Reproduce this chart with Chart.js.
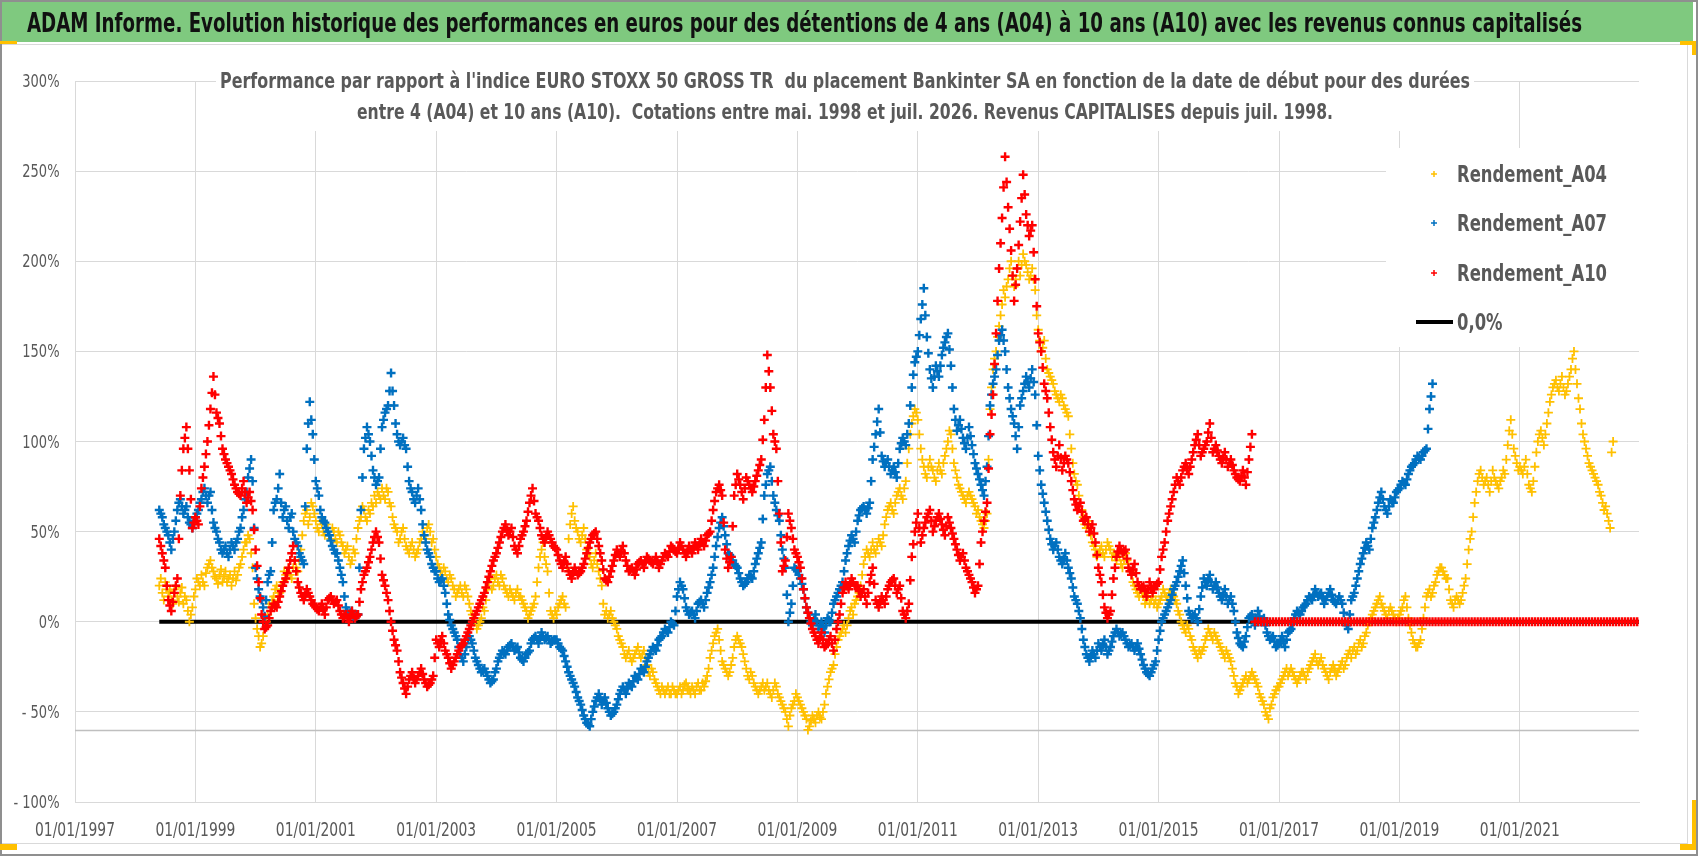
<!DOCTYPE html>
<html>
<head>
<meta charset="utf-8">
<script src="https://cdn.jsdelivr.net/npm/chart.js@4.4.1/dist/chart.umd.min.js"></script>
<style>
html, body { margin: 0; padding: 0; background: #fff; }
#wrap { position: relative; width: 1698px; height: 856px; }
</style>
</head>
<body>
<div id="wrap"><canvas id="chart" width="1698" height="856"></canvas></div>
<script>
const FONT = "'Liberation Sans Narrow', 'DejaVu Sans Condensed', 'Open Sans', sans-serif";

const mainTitle = "ADAM Informe. Evolution historique des performances en euros pour des détentions de 4 ans (A04) à 10 ans (A10) avec les revenus connus capitalisés";
const subTitle = [
    "Performance par rapport à l'indice EURO STOXX 50 GROSS TR  du placement Bankinter SA en fonction de la date de début pour des durées",
    "entre 4 (A04) et 10 ans (A10).  Cotations entre mai. 1998 et juil. 2026. Revenus CAPITALISES depuis juil. 1998."
];

// x axis: decimal years, one label every two years
const xTickYears = [1997, 1999, 2001, 2003, 2005, 2007, 2009, 2011, 2013, 2015, 2017, 2019, 2021];
const yTicks = [-100, -50, 0, 50, 100, 150, 200, 250, 300];
const axisCross = -60;

// series every 0.025 year from their start date (values in %)
const stepYears = 0.025;
const a04Start = 1998.40;
const a07Start = 1998.40;
const a10Start = 1998.40;

const a04Values = [
    20, 24, 16, 12, 22, 18, 14, 17, 12, 10, 18, 20, 14, 11, 16, 19, 10, 14, 12, 6, 0, 4, 8, 14,
    18, 24, 22, 20, 26, 22, 20, 27, 30, 32, 34, 30, 28, 25, 24, 21, 26, 29, 22, 25, 28, 22, 24, 26, 20, 24, 28, 23, 26, 30, 32, 36, 40, 44, 44, 48, 46, 38, 30, 10,
    2, -4, -8, -14, -12, -8, -4, 0, 4, 10, 8, 12, 14, 18, 20, 14, 16, 20, 22, 28, 26, 24, 30, 26, 24, 30, 34, 30, 28, 34, 40, 48, 56, 60, 62, 54, 58, 66, 64, 60,
    56, 52, 50, 56, 54, 50, 48, 54, 52, 48, 46, 52, 50, 46, 44, 50, 48, 44, 42, 38, 40, 42, 36, 32, 34, 40, 38, 46, 52, 56, 58, 64, 62, 58, 56, 62, 60, 66, 64, 70,
    66, 72, 70, 68, 74, 70, 68, 74, 72, 66, 64, 58, 54, 52, 50, 44, 46, 50, 52, 46, 42, 40, 38, 42, 44, 40, 36, 38, 40, 44, 46, 50, 48, 46, 52, 54, 50, 44, 46, 40,
    36, 32, 30, 28, 26, 30, 28, 24, 22, 26, 24, 20, 18, 14, 16, 18, 20, 16, 14, 20, 18, 14, 10, 6, 4, 2, 0, -4, -2, 0, 2, 8, 6, 12, 18, 22, 24, 18, 20, 24,
    26, 22, 20, 26, 24, 20, 18, 16, 14, 18, 16, 14, 12, 16, 18, 14, 14, 12, 10, 8, 6, 2, 4, 6, 8, 10, 14, 22, 30, 36, 40, 44, 36, 32, 28, 16, 6, 4, 2, 6,
    4, 8, 10, 12, 14, 10, 8, 30, 46, 54, 60, 64, 56, 52, 50, 46, 44, 48, 52, 46, 40, 38, 36, 32, 30, 34, 38, 32, 28, 24, 20, 10, 4, 6, 2, 4, 6, 2, 0, -2,
    -4, -8, -10, -12, -14, -18, -20, -18, -16, -20, -22, -20, -18, -16, -14, -18, -20, -18, -16, -20, -24, -28, -30, -26, -28, -32, -34, -36, -38, -40, -36, -38, -40, -38, -36, -40, -40, -36, -38, -40,
    -40, -38, -36, -40, -38, -35, -34, -37, -38, -40, -36, -38, -40, -36, -34, -38, -38, -34, -36, -33, -30, -26, -20, -16, -12, -8, -6, -4, -10, -16, -22, -24, -26, -28, -30, -28, -24, -20, -14, -10,
    -8, -10, -12, -14, -18, -22, -26, -30, -32, -28, -30, -34, -36, -38, -40, -38, -36, -34, -38, -36, -34, -38, -40, -42, -38, -34, -36, -40, -42, -44, -46, -48, -50, -54, -58, -52, -48, -46, -44, -40,
    -42, -44, -46, -48, -50, -52, -54, -60, -58, -55, -52, -54, -56, -52, -50, -53, -54, -50, -46, -40, -36, -32, -28, -26, -24, -18, -14, -10, -8, -6, -4, -2, -6, -2, 2, 6, 8, 4, 10, 12,
    14, 16, 20, 26, 32, 36, 40, 38, 36, 40, 44, 40, 38, 42, 46, 44, 42, 48, 54, 58, 62, 64, 66, 62, 60, 66, 70, 72, 74, 70, 68, 74, 78, 88, 96, 104, 110, 114, 118, 116,
    112, 104, 96, 90, 86, 82, 80, 86, 90, 86, 84, 80, 78, 84, 88, 84, 82, 88, 92, 96, 100, 106, 104, 96, 88, 84, 80, 76, 74, 72, 70, 68, 66, 70, 72, 70, 68, 66, 64, 60,
    62, 58, 56, 54, 52, 56, 60, 90, 118, 130, 140, 146, 150, 158, 164, 170, 176, 184, 180, 186, 190, 196, 200, 192, 186, 190, 196, 200, 192, 198, 204, 200, 198, 194, 190, 192, 196, 190, 184, 170,
    162, 156, 150, 152, 156, 146, 140, 138, 136, 134, 132, 128, 126, 124, 122, 126, 124, 120, 118, 116, 114, 104, 96, 88, 82, 78, 76, 70, 66, 62, 58, 54, 52, 56, 54, 48, 44, 42, 40, 36,
    38, 40, 42, 38, 36, 40, 44, 42, 40, 36, 38, 36, 34, 38, 36, 32, 30, 34, 38, 34, 32, 28, 26, 22, 20, 18, 16, 14, 18, 16, 14, 10, 12, 14, 10, 12, 14, 10, 12, 8,
    10, 12, 14, 18, 16, 14, 12, 16, 18, 16, 14, 12, 10, 6, 4, 0, -2, -4, -6, -2, -4, -8, -10, -14, -16, -18, -20, -16, -18, -16, -14, -10, -8, -4, -6, -8, -10, -6, -8, -10,
    -12, -14, -16, -18, -20, -16, -18, -20, -22, -26, -30, -34, -36, -40, -38, -36, -34, -32, -30, -34, -32, -30, -28, -30, -32, -34, -36, -40, -42, -44, -46, -50, -52, -54, -48, -46, -42, -40, -38, -36,
    -36, -34, -32, -30, -28, -26, -30, -28, -26, -28, -30, -32, -34, -32, -30, -28, -28, -30, -32, -28, -26, -24, -22, -20, -18, -22, -24, -22, -20, -24, -26, -28, -30, -32, -28, -26, -24, -27, -30, -28,
    -26, -24, -22, -26, -24, -20, -18, -16, -20, -16, -14, -18, -16, -12, -10, -14, -12, -8, -6, -2, 0, 2, 4, 6, 8, 10, 12, 14, 10, 8, 6, 4, 2, 6, 8, 6, 4, 2, 0, 2,
    4, 6, 8, 12, 14, 8, 2, -2, -6, -10, -12, -14, -14, -12, -10, -4, 2, 8, 14, 16, 18, 14, 16, 20, 22, 26, 28, 30, 30, 28, 26, 24, 24, 18, 12, 10, 8, 12, 14, 12,
    10, 12, 16, 20, 24, 32, 40, 46, 50, 58, 66, 72, 78, 82, 84, 80, 76, 78, 80, 76, 72, 78, 84, 80, 78, 76, 74, 78, 80, 84, 82, 90, 98, 106, 112, 104, 96, 92, 88, 84,
    86, 84, 82, 86, 90, 82, 76, 74, 72, 78, 86, 94, 100, 104, 106, 102, 98, 104, 110, 116, 122, 126, 130, 132, 134, 130, 128, 132, 136, 130, 126, 128, 132, 136, 140, 146, 150, 140, 132, 124,
    118, 110, 104, 100, 96, 92, 88, 86, 84, 82, 80, 78, 76, 72, 70, 66, 62, 64, 60, 56, 52, 94, 100
];

const a07Values = [
    62, 60, 58, 54, 52, 50, 48, 44, 40, 46, 50, 56, 62, 66, 68, 64, 60, 62, 64, 58, 55, 54, 52, 56,
    58, 60, 62, 66, 68, 72, 74, 70, 66, 70, 72, 62, 55, 52, 50, 46, 44, 40, 38, 40, 42, 38, 36, 40, 44, 42, 40, 44, 46, 50, 52, 58, 62, 68, 72, 80, 85, 90, 78, 52,
    30, 24, 18, 14, 12, 8, 3, 12, 22, 26, 28, 44, 62, 66, 68, 74, 82, 66, 58, 62, 64, 56, 52, 58, 60, 50, 46, 44, 42, 38, 36, 34, 32, 64, 96, 110, 122, 112, 104, 90,
    78, 74, 70, 62, 58, 56, 55, 52, 50, 48, 45, 42, 40, 38, 38, 34, 30, 26, 22, 14, 8, 6, 4, 5, 6, 3, 2, 4, 4, 30, 62, 80, 96, 102, 108, 104, 100, 92, 84, 80,
    76, 78, 80, 96, 108, 112, 116, 118, 120, 128, 138, 128, 120, 110, 104, 100, 98, 100, 102, 98, 96, 86, 78, 74, 72, 68, 66, 70, 74, 68, 62, 54, 48, 44, 40, 38, 36, 32, 30, 28,
    28, 24, 22, 23, 24, 20, 16, 10, 4, 1, -2, -4, -6, -8, -10, -14, -18, -20, -22, -18, -14, -10, -8, -10, -12, -16, -20, -22, -24, -26, -28, -27, -26, -28, -30, -32, -34, -33, -32, -28,
    -26, -22, -20, -18, -16, -17, -18, -16, -14, -13, -12, -14, -16, -15, -14, -17, -20, -21, -22, -20, -18, -17, -16, -12, -10, -9, -8, -10, -12, -9, -6, -8, -10, -9, -8, -10, -12, -11, -10, -10,
    -10, -12, -14, -15, -16, -19, -22, -25, -28, -30, -32, -34, -36, -39, -42, -44, -46, -49, -52, -54, -56, -57, -58, -54, -50, -47, -44, -42, -40, -43, -46, -44, -42, -45, -48, -50, -52, -51, -50, -48,
    -46, -43, -40, -38, -36, -38, -40, -37, -34, -35, -36, -33, -30, -31, -32, -29, -26, -27, -28, -25, -22, -20, -18, -16, -14, -15, -16, -13, -10, -9, -8, -6, -4, -5, -6, -3, 0, -1, -2, 6,
    14, 18, 22, 20, 18, 13, 8, 6, 4, 5, 6, 4, 2, 6, 10, 11, 12, 10, 8, 12, 16, 19, 22, 26, 30, 36, 42, 47, 52, 55, 58, 53, 48, 43, 38, 37, 36, 34, 32, 31,
    30, 27, 24, 22, 20, 21, 22, 24, 26, 25, 24, 28, 32, 35, 38, 41, 44, 57, 70, 76, 82, 84, 86, 78, 70, 66, 62, 59, 56, 48, 40, 35, 30, 15, 0, 5, 10, 20, 30, 29,
    28, 26, 24, 21, 18, 13, 8, 5, 2, 0, -2, 1, 4, 0, -4, -2, 0, -3, -6, -2, 2, 1, 0, 5, 10, 12, 14, 16, 18, 20, 22, 28, 34, 38, 42, 45, 48, 46, 44, 50,
    56, 59, 62, 63, 64, 62, 60, 63, 66, 78, 90, 97, 104, 111, 118, 105, 92, 89, 86, 88, 90, 86, 82, 84, 86, 83, 80, 88, 96, 99, 102, 100, 98, 104, 110, 120, 130, 137, 144, 147,
    150, 159, 168, 176, 185, 170, 158, 149, 140, 135, 130, 136, 142, 139, 136, 142, 148, 152, 155, 158, 160, 151, 142, 130, 118, 112, 106, 109, 112, 107, 102, 99, 96, 102, 108, 103, 98, 93, 88, 85,
    82, 79, 76, 73, 70, 78, 86, 103, 120, 126, 132, 136, 140, 148, 156, 159, 162, 156, 150, 140, 130, 124, 118, 114, 110, 103, 96, 108, 120, 124, 128, 132, 136, 133, 130, 135, 140, 133, 126, 109,
    92, 84, 76, 71, 66, 61, 56, 51, 46, 43, 40, 42, 44, 40, 36, 34, 32, 35, 38, 34, 30, 27, 24, 19, 14, 12, 10, 6, 2, -4, -10, -14, -18, -20, -22, -19, -16, -18, -20, -16,
    -12, -14, -16, -13, -10, -14, -18, -16, -14, -11, -8, -6, -4, -6, -8, -7, -6, -8, -10, -12, -14, -13, -12, -14, -16, -14, -12, -15, -18, -21, -24, -26, -28, -29, -30, -28, -26, -24, -22, -16,
    -10, -5, 0, 2, 4, 6, 8, 10, 12, 15, 18, 20, 22, 25, 28, 31, 34, 27, 20, 13, 6, 4, 2, 3, 4, 2, 0, 7, 14, 19, 24, 22, 20, 23, 26, 22, 18, 20, 22, 19,
    16, 14, 12, 15, 18, 14, 10, 12, 14, 10, 6, 0, -6, -9, -12, -13, -14, -11, -8, -3, 2, 3, 4, 1, -2, 2, 6, 3, 0, 1, 2, -2, -6, -8, -10, -9, -8, -11, -14, -13,
    -12, -10, -8, -11, -14, -10, -6, -5, -4, -1, 2, 4, 6, 5, 4, 6, 8, 9, 10, 12, 14, 13, 12, 15, 18, 16, 14, 15, 16, 13, 10, 12, 14, 16, 18, 15, 12, 11, 10, 12,
    14, 12, 10, 5, 0, -2, -4, 4, 12, 14, 16, 20, 24, 28, 32, 35, 38, 41, 44, 42, 40, 46, 52, 55, 58, 62, 66, 69, 72, 68, 64, 62, 60, 64, 68, 67, 66, 69, 72, 73,
    74, 76, 78, 77, 76, 79, 82, 84, 86, 87, 88, 90, 92, 91, 90, 92, 94, 95, 96, 107, 118, 125, 132
];

const a10Values = [
    46, 42, 38, 34, 30, 20, 12, 9, 6, 11, 16, 20, 24, 46, 70, 84, 96, 102, 108, 96, 84, 68, 52, 55,
    58, 56, 54, 64, 74, 80, 86, 93, 100, 109, 118, 127, 136, 126, 116, 113, 110, 103, 96, 93, 90, 88, 86, 84, 82, 79, 76, 74, 72, 71, 70, 74, 78, 72, 66, 69, 72, 67, 62, 51,
    40, 31, 22, 13, 4, 0, -4, -3, -2, 2, 6, 8, 10, 9, 8, 11, 14, 17, 20, 22, 24, 27, 30, 34, 38, 42, 34, 28, 22, 19, 16, 14, 12, 15, 18, 16, 14, 12, 10, 9,
    8, 7, 6, 8, 10, 7, 4, 8, 12, 13, 14, 12, 10, 11, 12, 9, 6, 4, 2, 3, 4, 2, 0, 3, 6, 4, 2, 3, 4, 11, 18, 22, 26, 28, 30, 33, 36, 40, 44, 47,
    50, 47, 44, 35, 26, 23, 20, 16, 12, 6, 0, -5, -10, -13, -16, -22, -28, -31, -34, -37, -40, -36, -32, -30, -28, -31, -34, -32, -30, -28, -26, -29, -32, -34, -36, -35, -34, -32, -30, -20,
    -10, -12, -14, -11, -8, -12, -16, -18, -20, -23, -26, -24, -22, -20, -18, -16, -14, -13, -12, -10, -8, -6, -4, -2, 0, 2, 4, 6, 8, 10, 12, 14, 16, 19, 22, 25, 28, 31, 34, 36,
    38, 41, 44, 47, 50, 52, 54, 51, 48, 50, 52, 47, 42, 40, 38, 42, 46, 48, 50, 53, 56, 61, 66, 70, 74, 67, 60, 58, 56, 52, 48, 46, 44, 47, 50, 48, 46, 44, 42, 41,
    40, 37, 34, 32, 30, 33, 36, 32, 28, 26, 24, 27, 30, 28, 26, 27, 28, 30, 32, 35, 38, 41, 44, 46, 48, 49, 50, 46, 42, 38, 34, 29, 24, 23, 22, 25, 28, 31, 34, 37,
    40, 38, 36, 39, 42, 38, 34, 31, 28, 29, 30, 28, 26, 29, 32, 33, 34, 32, 30, 33, 36, 35, 34, 33, 32, 34, 36, 33, 30, 32, 34, 36, 38, 37, 36, 39, 42, 41, 40, 39,
    38, 41, 44, 42, 40, 38, 36, 39, 42, 40, 38, 41, 44, 42, 40, 43, 46, 44, 42, 45, 48, 49, 50, 56, 62, 67, 72, 74, 76, 73, 70, 55, 40, 35, 30, 33, 36, 53, 70, 76,
    82, 79, 76, 72, 68, 74, 80, 78, 76, 74, 72, 75, 78, 81, 84, 87, 90, 101, 112, 130, 148, 139, 130, 117, 104, 100, 96, 78, 60, 44, 28, 31, 34, 47, 60, 56, 52, 46, 40, 38,
    36, 33, 30, 24, 18, 13, 8, 5, 2, -1, -4, -6, -8, -10, -12, -9, -6, -10, -14, -13, -12, -10, -8, -12, -16, -10, -4, 0, 4, 10, 16, 19, 22, 20, 18, 21, 24, 22, 20, 20,
    20, 17, 14, 16, 18, 14, 10, 16, 22, 26, 30, 21, 12, 10, 8, 11, 14, 12, 10, 14, 18, 20, 22, 23, 24, 20, 16, 18, 20, 13, 6, 4, 2, 6, 10, 23, 36, 43, 50, 55,
    60, 52, 44, 48, 52, 55, 58, 60, 62, 56, 50, 53, 56, 58, 60, 57, 54, 51, 48, 53, 58, 55, 52, 49, 46, 43, 40, 37, 34, 36, 38, 34, 30, 28, 26, 24, 22, 19, 16, 18,
    20, 32, 44, 50, 56, 61, 66, 85, 104, 115, 126, 143, 160, 178, 196, 210, 224, 241, 258, 244, 230, 218, 206, 192, 178, 187, 196, 209, 222, 235, 248, 237, 226, 220, 214, 217, 220, 205, 190, 175,
    160, 155, 150, 141, 132, 128, 124, 116, 108, 101, 94, 90, 86, 92, 98, 91, 84, 88, 92, 90, 88, 83, 78, 73, 68, 65, 62, 64, 66, 61, 56, 57, 58, 54, 50, 52, 54, 49, 44, 37,
    30, 26, 22, 15, 8, 5, 2, 4, 6, 15, 24, 30, 36, 39, 42, 40, 38, 39, 40, 35, 30, 28, 26, 29, 32, 27, 22, 20, 18, 19, 20, 17, 14, 18, 22, 19, 16, 18, 20, 21,
    22, 29, 36, 40, 44, 50, 56, 60, 64, 68, 72, 76, 80, 78, 76, 80, 84, 86, 88, 85, 82, 86, 90, 94, 98, 101, 104, 98, 92, 94, 96, 98, 100, 105, 110, 102, 94, 96, 98, 95,
    92, 90, 88, 91, 94, 90, 86, 88, 90, 87, 84, 82, 80, 79, 78, 81, 84, 80, 76, 83, 90, 97, 104
];

// A10 has no known value after mid 2016: plotted at 0 every 0.05 year
const a10ZeroStart = 2016.60;
const a10ZeroStep = 0.05;
const a10ZeroValues = [
    0, 0, 0, 0, 0, 0, 0, 0,
    0, 0, 0, 0, 0, 0, 0, 0, 0, 0, 0, 0, 0, 0, 0, 0, 0, 0, 0, 0,
    0, 0, 0, 0, 0, 0, 0, 0, 0, 0, 0, 0, 0, 0, 0, 0, 0, 0, 0, 0,
    0, 0, 0, 0, 0, 0, 0, 0, 0, 0, 0, 0, 0, 0, 0, 0, 0, 0, 0, 0,
    0, 0, 0, 0, 0, 0, 0, 0, 0, 0, 0, 0, 0, 0, 0, 0, 0, 0, 0, 0,
    0, 0, 0, 0, 0, 0, 0, 0, 0, 0, 0, 0, 0, 0, 0, 0, 0, 0, 0, 0,
    0, 0, 0, 0, 0, 0, 0, 0, 0, 0, 0, 0, 0, 0, 0, 0, 0, 0, 0, 0
];

const zeroLineYears = [1998.40, 2022.98];
const zeroLineValues = [0, 0];

const toPoints = (start, vals, step) => vals.map((v, i) => ({ x: +(start + i * step).toFixed(3), y: v }));
const fmtDate = v => "01/01/" + v;
const fmtPct = v => v < 0 ? "- " + Math.abs(v) + "%" : v + "%";

// draw a text squeezed/stretched to a given width (the picture uses a narrow face)
function fitText(c, text, left, baseline, width, font, color) {
    c.save();
    c.font = font;
    c.fillStyle = color;
    c.textAlign = "left";
    c.textBaseline = "alphabetic";
    const w = c.measureText(text).width;
    c.translate(left, baseline);
    c.scale(width / w, 1);
    c.fillText(text, 0, 0);
    c.restore();
}

const decor = {
    id: "decor",
    beforeDraw(chart) {
        const c = chart.ctx;
        c.save();
        c.fillStyle = "#fff";
        c.fillRect(0, 0, chart.width, chart.height);
        // green title band
        c.fillStyle = "#7fc97f";
        c.fillRect(0, 2, 1693, 40);
        c.strokeStyle = "#d9d9d9";
        c.lineWidth = 1;
        c.beginPath();
        c.moveTo(0, 44.5); c.lineTo(1688, 44.5);
        c.moveTo(1687.5, 44); c.lineTo(1687.5, 843.5);
        c.moveTo(0, 843.5); c.lineTo(1688, 843.5);
        c.stroke();
        c.strokeStyle = "#8f8f8f";
        c.lineWidth = 2;
        c.strokeRect(1, 1, 1696, 854);
        fitText(c, mainTitle, 27, 32, 1555, "bold 26px " + FONT, "#111");
        // selection handles
        c.fillStyle = "#ffc000";
        c.fillRect(0, 41, 17, 3);
        c.fillRect(1680, 41, 16, 4);
        c.fillRect(1692, 41, 4, 14);
        c.fillRect(1692, 800, 4, 50);
        c.fillRect(1680, 844, 16, 6);
        c.fillRect(0, 844, 17, 6);
        c.restore();
    },
    beforeDatasetsDraw(chart) {
        const c = chart.ctx, a = chart.chartArea;
        const xs = chart.scales.x, ys = chart.scales.y;
        c.save();
        const y = Math.round(ys.getPixelForValue(axisCross)) + 0.5;
        c.strokeStyle = "#bfbfbf";
        c.lineWidth = 1.5;
        c.beginPath();
        c.moveTo(a.left, y); c.lineTo(a.right, y);
        c.stroke();
        // tick labels, narrow face
        c.font = "20px " + FONT;
        const sxX = 80 / c.measureText("01/01/1997").width;
        xs.ticks.forEach(t => {
            const px = xs.getPixelForValue(t.value);
            c.save();
            c.fillStyle = "#595959";
            c.textAlign = "center";
            c.translate(px, 836);
            c.scale(sxX, 1);
            c.fillText(fmtDate(t.value), 0, 0);
            c.restore();
        });
        c.font = "17px " + FONT;
        const sxY = 46 / c.measureText("- 100%").width;
        ys.ticks.forEach(t => {
            const py = ys.getPixelForValue(t.value);
            c.save();
            c.fillStyle = "#595959";
            c.textAlign = "right";
            c.translate(59.5, py + 6);
            c.scale(sxY, 1);
            c.fillText(fmtPct(t.value), 0, 0);
            c.restore();
        });
        c.restore();
    },
    afterDatasetsDraw(chart) {
        const c = chart.ctx, a = chart.chartArea;
        c.save();
        // chart subtitle over the plot
        c.fillStyle = "#fff";
        c.fillRect(216, 66, 1258, 65);
        fitText(c, subTitle[0], 220, 88, 1250, "bold 22px " + FONT, "#595959");
        fitText(c, subTitle[1], 357, 119, 976, "bold 22px " + FONT, "#595959");
        // legend
        c.fillStyle = "#fff";
        c.fillRect(1386, 148, a.right - 1386, 199);
        const ds = chart.data.datasets;
        const rows = [174, 223, 273, 322];
        c.font = "bold 23px " + FONT;
        const sx = 150 / c.measureText(ds[0].label).width;
        ds.forEach((d, i) => {
            const cy = rows[i];
            c.save();
            c.strokeStyle = d.borderColor;
            c.beginPath();
            if (d.showLine) {
                c.lineWidth = 4;
                c.moveTo(1416, cy); c.lineTo(1453, cy);
            } else {
                c.lineWidth = 1.5;
                c.moveTo(1431, cy); c.lineTo(1437, cy);
                c.moveTo(1434, cy - 3); c.lineTo(1434, cy + 3);
            }
            c.stroke();
            c.fillStyle = "#595959";
            c.textBaseline = "alphabetic";
            c.translate(1457, cy + 8);
            c.scale(sx, 1);
            c.fillText(d.label, 0, 0);
            c.restore();
        });
        c.restore();
    }
};

new Chart(document.querySelector("#chart"), {
    type: "scatter",
    data: {
        datasets: [
            { label: "Rendement_A04", data: toPoints(a04Start, a04Values, stepYears), borderColor: "#ffc000", backgroundColor: "#ffc000",
              pointStyle: "cross", pointRadius: 4.5, pointBorderWidth: 1.8, order: 3 },
            { label: "Rendement_A07", data: toPoints(a07Start, a07Values, stepYears), borderColor: "#0070c0", backgroundColor: "#0070c0",
              pointStyle: "cross", pointRadius: 4.5, pointBorderWidth: 2.4, order: 2 },
            { label: "Rendement_A10",
              data: toPoints(a10Start, a10Values, stepYears).concat(toPoints(a10ZeroStart, a10ZeroValues, a10ZeroStep)),
              borderColor: "#ff0000", backgroundColor: "#ff0000",
              pointStyle: "cross", pointRadius: 4.5, pointBorderWidth: 2.4, order: 1 },
            { label: "0,0%", type: "line", showLine: true, data: zeroLineYears.map((x, i) => ({ x, y: zeroLineValues[i] })),
              borderColor: "#000", borderWidth: 4, pointRadius: 0, order: 10 }
        ]
    },
    options: {
        responsive: false,
        animation: false,
        events: [],
        layout: { padding: { left: 0, top: 81, right: 59, bottom: 14 } },
        plugins: { legend: { display: false }, title: { display: false }, tooltip: { enabled: false } },
        scales: {
            x: {
                type: "linear",
                min: 1997,
                max: 2022.98,
                afterBuildTicks: s => { s.ticks = xTickYears.map(v => ({ value: v })); },
                afterFit: s => { s.height = 40; },
                grid: { color: "#d9d9d9", drawTicks: false },
                border: { color: "#d9d9d9" },
                ticks: { display: false, callback: fmtDate }
            },
            y: {
                min: -100,
                max: 300,
                afterBuildTicks: s => { s.ticks = yTicks.map(v => ({ value: v })); },
                afterFit: s => { s.width = 75; },
                grid: { color: "#d9d9d9", drawTicks: false },
                border: { color: "#d9d9d9" },
                ticks: { display: false, callback: fmtPct }
            }
        }
    },
    plugins: [decor]
});
</script>
</body>
</html>
